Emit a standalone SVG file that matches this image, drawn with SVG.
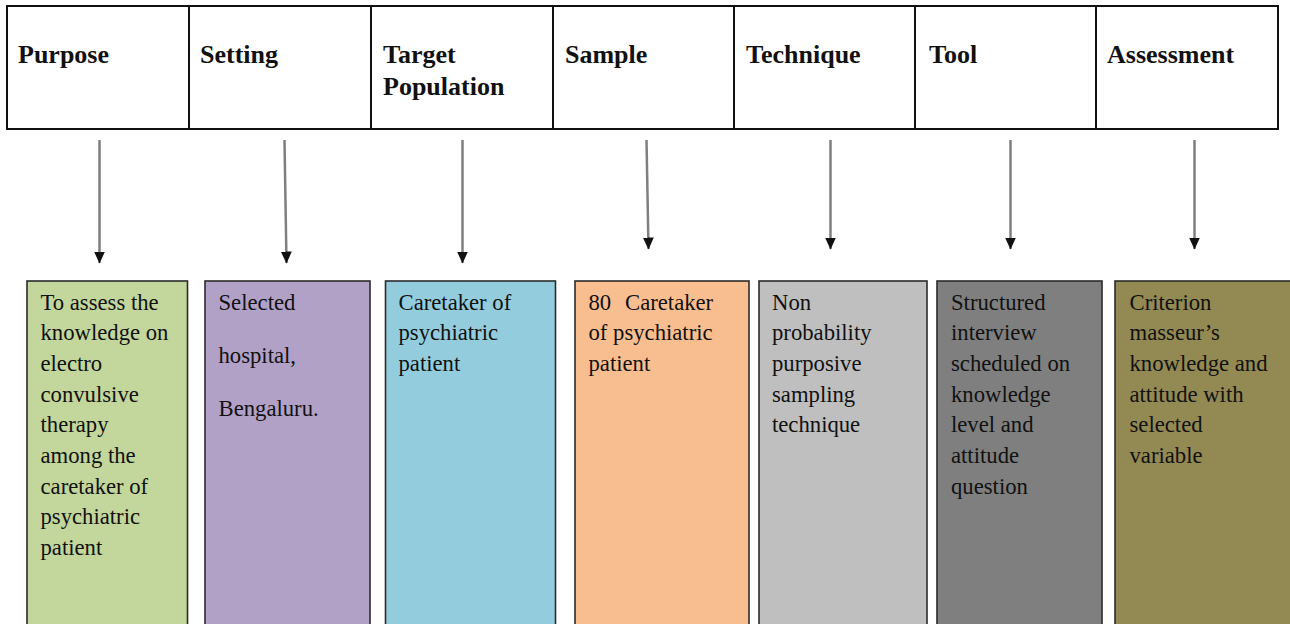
<svg xmlns="http://www.w3.org/2000/svg" width="1290" height="624" viewBox="0 0 1290 624">
<style>
.hdr{font-family:"Liberation Serif","Times New Roman",serif;font-weight:bold;font-size:26px;fill:#111}
.cell{fill:#fff;stroke:#111;stroke-width:2}
.box{stroke:#2b2b2b;stroke-width:1.6}
.txt{font-family:"Liberation Serif","Times New Roman",serif;font-size:22.7px;fill:#111}
.conn{stroke:#7f7f7f;stroke-width:2.5;fill:none;marker-end:url(#ah)}
</style>
<defs>
<marker id="ah" markerWidth="5" markerHeight="5" refX="4.6" refY="2.5" orient="auto" markerUnits="strokeWidth">
<path d="M0,0.3 L4.8,2.5 L0,4.7 Z" fill="#111"/>
</marker>
</defs>
<rect width="1290" height="624" fill="#fff"/>
<g id="header">
<g id="h-purpose"><rect class="cell" x="7" y="6" width="182" height="123"/><text class="hdr" x="18" y="63">Purpose</text></g>
<g id="h-setting"><rect class="cell" x="189" y="6" width="182" height="123"/><text class="hdr" x="200" y="63">Setting</text></g>
<g id="h-target"><rect class="cell" x="371" y="6" width="182" height="123"/><text class="hdr" x="383" y="63">Target<tspan x="383" y="95">Population</tspan></text></g>
<g id="h-sample"><rect class="cell" x="553" y="6" width="181" height="123"/><text class="hdr" x="565" y="63">Sample</text></g>
<g id="h-technique"><rect class="cell" x="734" y="6" width="181" height="123"/><text class="hdr" x="746" y="63">Technique</text></g>
<g id="h-tool"><rect class="cell" x="915" y="6" width="181" height="123"/><text class="hdr" x="929" y="63">Tool</text></g>
<g id="h-assessment"><rect class="cell" x="1096" y="6" width="182" height="123"/><text class="hdr" x="1107" y="63">Assessment</text></g>
</g>
<g id="connectors">
<line class="conn" x1="99.5" y1="140" x2="99.5" y2="263"/>
<line class="conn" x1="284.5" y1="140" x2="286.5" y2="263"/>
<line class="conn" x1="462.5" y1="140" x2="462.5" y2="263"/>
<line class="conn" x1="646.5" y1="140" x2="648.5" y2="249"/>
<line class="conn" x1="830.5" y1="140" x2="830.5" y2="249"/>
<line class="conn" x1="1010.5" y1="140" x2="1010.5" y2="249"/>
<line class="conn" x1="1194.5" y1="140" x2="1194.5" y2="249"/>
</g>
<g id="n-purpose"><rect class="box" x="27" y="281" width="160.5" height="350" fill="#c3d69b"/>
<text class="txt" x="40.5" y="309.5">To assess the<tspan x="40.5" dy="30.7">knowledge on</tspan><tspan x="40.5" dy="30.7">electro</tspan><tspan x="40.5" dy="30.7">convulsive</tspan><tspan x="40.5" dy="30.7">therapy</tspan><tspan x="40.5" dy="30.7">among the</tspan><tspan x="40.5" dy="30.7">caretaker of</tspan><tspan x="40.5" dy="30.7">psychiatric</tspan><tspan x="40.5" dy="30.7">patient</tspan></text></g>
<g id="n-setting"><rect class="box" x="205" y="281" width="165" height="350" fill="#b2a1c7"/>
<text class="txt" x="218.5" y="309.5">Selected<tspan x="218.5" dy="53">hospital,</tspan><tspan x="218.5" dy="53">Bengaluru.</tspan></text></g>
<g id="n-target"><rect class="box" x="385.5" y="281" width="170" height="350" fill="#93cddd"/>
<text class="txt" x="398.5" y="309.5">Caretaker of<tspan x="398.5" dy="30.7">psychiatric</tspan><tspan x="398.5" dy="30.7">patient</tspan></text></g>
<g id="n-sample"><rect class="box" x="575" y="281" width="174" height="350" fill="#f8be8f"/>
<text class="txt" x="588.5" y="309.5">80<tspan x="625">Caretaker</tspan><tspan x="588.5" dy="30.7">of psychiatric</tspan><tspan x="588.5" dy="30.7">patient</tspan></text></g>
<g id="n-technique"><rect class="box" x="759" y="281" width="168" height="350" fill="#bfbfbf"/>
<text class="txt" x="772" y="309.5">Non<tspan x="772" dy="30.7">probability</tspan><tspan x="772" dy="30.7">purposive</tspan><tspan x="772" dy="30.7">sampling</tspan><tspan x="772" dy="30.7">technique</tspan></text></g>
<g id="n-tool"><rect class="box" x="937" y="281" width="165" height="350" fill="#7f7f7f"/>
<text class="txt" x="951" y="309.5">Structured<tspan x="951" dy="30.7">interview</tspan><tspan x="951" dy="30.7">scheduled on</tspan><tspan x="951" dy="30.7">knowledge</tspan><tspan x="951" dy="30.7">level and</tspan><tspan x="951" dy="30.7">attitude</tspan><tspan x="951" dy="30.7">question</tspan></text></g>
<g id="n-assessment"><rect class="box" x="1115" y="281" width="180" height="350" fill="#938953"/>
<text class="txt" x="1129.5" y="309.5">Criterion<tspan x="1129.5" dy="30.7">masseur’s</tspan><tspan x="1129.5" dy="30.7">knowledge and</tspan><tspan x="1129.5" dy="30.7">attitude with</tspan><tspan x="1129.5" dy="30.7">selected</tspan><tspan x="1129.5" dy="30.7">variable</tspan></text></g>
</svg>
